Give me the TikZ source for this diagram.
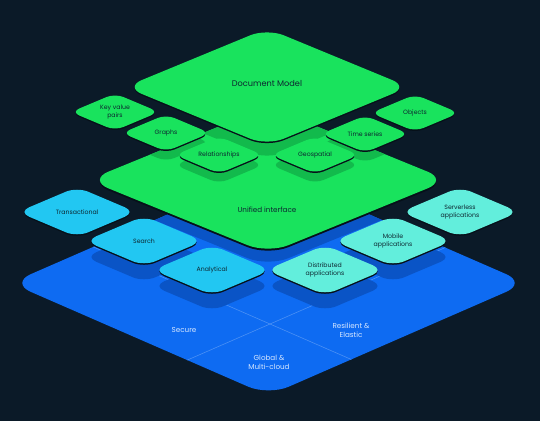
\documentclass[tikz,border=0pt]{standalone}
\usepackage{fontspec}
\setmainfont{Poppins}
\definecolor{bgnavy}{HTML}{0B1A28}
\definecolor{slabdark}{HTML}{061019}
\definecolor{basegreen}{HTML}{19E35D}
\definecolor{greenshade}{HTML}{12BA4C}
\definecolor{baseblue}{HTML}{0E6BF2}
\definecolor{blueshade}{HTML}{0A54C6}
\definecolor{divblue}{HTML}{4A90F5}
\definecolor{skycyan}{HTML}{22C7F2}
\definecolor{mintaqua}{HTML}{62EEDC}
\definecolor{inkdark}{HTML}{0D2630}
\definecolor{inklight}{HTML}{D8E8FF}
\tikzset{bigtext/.style={font=\fontsize{8.2}{9.5}\selectfont,text=inkdark,align=center,inner sep=0}}
\tikzset{tiletext/.style={font=\fontsize{6.2}{7.4}\selectfont,text=inkdark,align=center,inner sep=0}}
\tikzset{basetext/.style={font=\fontsize{7.2}{8.8}\selectfont,text=inklight,align=center,inner sep=0}}
\tikzset{divider/.style={divblue,line width=0.6pt}}
% rounded isometric tile: x, y, half width, half height, options
\newcommand{\isotile}[5]{\path[#5] ({#1-#3/2},{#2+#4/2}) -- ({#1-#3},{#2})
    -- ({#1},{#2-#4}) -- ({#1+#3},{#2}) -- ({#1},{#2+#4}) -- cycle;}

\begin{document}
\begin{tikzpicture}[x=1pt,y=-1pt]
    \fill[bgnavy] (0,0) rectangle (540,421);
    \useasboundingbox (0,0) rectangle (540,421);
    % base layer
    \isotile{268.5}{283}{258}{112.5}{fill=baseblue,rounded corners=22pt}
    \begin{scope}
      \isotile{268.5}{283}{258}{112.5}{clip,rounded corners=22pt}
      \coordinate (cross) at (270,324);
      \draw[divider] (cross) ++(-258,112.5) -- ++(516,-225);
      \draw[divider] (cross) ++(258,112.5) -- ++(-516,-225);
      \isotile{268}{179+14}{180}{73.5}{fill=blueshade,rounded corners=22pt}
      \foreach \tx/\ty in {77/212,144/241,212/270,460/212,393/241,325/270}{
        \isotile{\tx}{\ty+16}{59}{25}{fill=blueshade,rounded corners=12pt}
      }
    \end{scope}
    \foreach \tx/\ty/\txt/\col [count=\i] in {77/212/Transactional/skycyan,
        460/212/{Serverless\\applications}/mintaqua,
        144/241/Search/skycyan,393/241/{Mobile\\applications}/mintaqua,
        212/270/Analytical/skycyan,325/270/{Distributed\\applications}/mintaqua}{%
      \isotile{\tx}{\ty+1.5}{59}{25}{fill=slabdark,rounded corners=12pt}
      \isotile{\tx}{\ty}{59}{25}{fill=\col,rounded corners=12pt}
      \node[tiletext] (b\i) at (\tx,\ty) {\txt};
    }
    \node[basetext] (secure) at (184,330) {Secure};
    \node[basetext] (resilient) at (351,330) {Resilient \&\\Elastic};
    \node[basetext] (global) at (269,362) {Global \&\\Multi-cloud};
    % unified layer
    \isotile{268}{180+2}{180}{73.5}{fill=slabdark,rounded corners=22pt}
    \isotile{268}{180}{180}{73.5}{fill=basegreen,rounded corners=22pt}
    \begin{scope}
      \isotile{268}{180}{180}{73.5}{clip,rounded corners=22pt}
      \isotile{267}{87+14}{142}{58.6}{fill=greenshade,rounded corners=18pt}
      \foreach \tx/\ty in {115/112,415/113,166/133,365/134,219/155,315/155}{
        \isotile{\tx}{\ty+10}{44}{18.5}{fill=greenshade,rounded corners=9pt}
      }
    \end{scope}
    \node[basetext,text=inkdark] (unified) at (267,210) {Unified interface};
    % document model
    \isotile{267}{87+1.5}{142}{58.6}{fill=slabdark,rounded corners=18pt}
    \isotile{267}{87}{142}{58.6}{fill=basegreen,rounded corners=18pt}
    \node[bigtext] (docmodel) at (267,83) {Document Model};
    \foreach \tx/\ty/\txt [count=\i] in {115/112/{Key value\\pairs},415/113/Objects,
        166/133/Graphs,365/134/Time series,219/155/Relationships,315/155/Geospatial}{%
      \isotile{\tx}{\ty+1.5}{44}{18.5}{fill=slabdark,rounded corners=9pt}
      \isotile{\tx}{\ty}{44}{18.5}{fill=basegreen,rounded corners=9pt}
      \node[tiletext] (g\i) at (\tx,\ty) {\txt};
    }
\end{tikzpicture}
\end{document}
